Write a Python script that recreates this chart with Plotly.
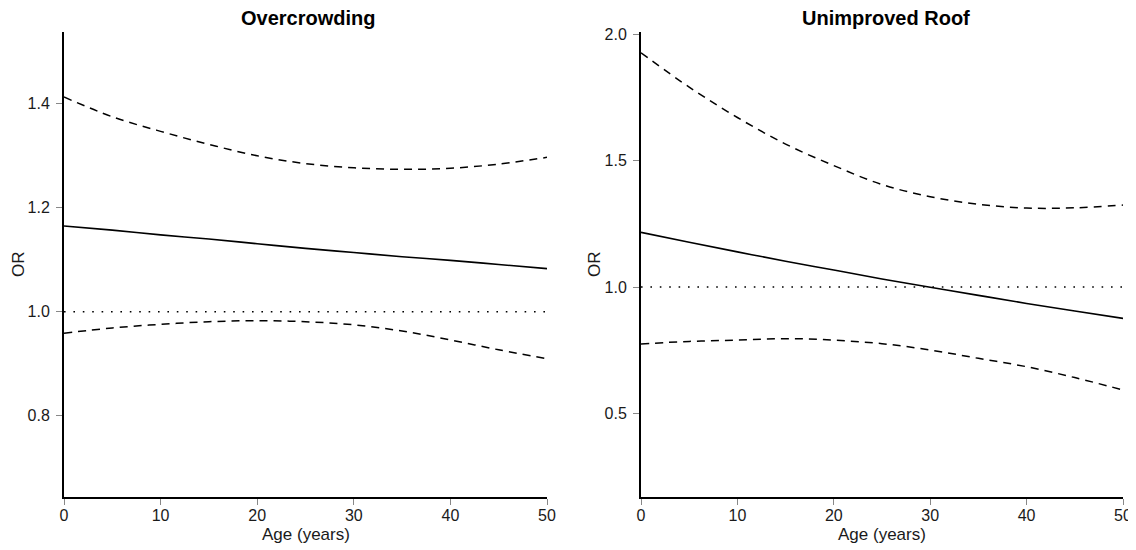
import plotly.graph_objects as go

# ---- data ----
age = [0, 5, 10, 15, 20, 25, 30, 35, 40, 45, 50]

over_or = [1.165, 1.157, 1.148, 1.140, 1.131, 1.122, 1.114, 1.106, 1.099, 1.091, 1.083]
over_hi = [1.413, 1.375, 1.347, 1.322, 1.300, 1.285, 1.277, 1.274, 1.276, 1.284, 1.297]
over_lo = [0.959, 0.969, 0.976, 0.981, 0.983, 0.981, 0.975, 0.963, 0.946, 0.927, 0.910]

roof_or = [1.216, 1.177, 1.139, 1.102, 1.067, 1.032, 0.999, 0.967, 0.935, 0.905, 0.876]
roof_hi = [1.926, 1.790, 1.670, 1.565, 1.480, 1.405, 1.357, 1.327, 1.312, 1.313, 1.324]
roof_lo = [0.775, 0.785, 0.790, 0.796, 0.790, 0.776, 0.751, 0.718, 0.685, 0.642, 0.593]

ref_x = [0, 50]
ref_y = [1.0, 1.0]

titles = ["Overcrowding", "Unimproved Roof"]
x_ticks = [0, 10, 20, 30, 40, 50]
y_ticks_left = [0.8, 1.0, 1.2, 1.4]
y_ticks_right = [0.5, 1.0, 1.5, 2.0]

# page body has an 8px margin, so the figure is drawn 8px smaller and coordinates shifted
OFF = 8
W, H = 1136 - OFF, 550 - OFF
FONT = "Liberation Sans, Arial, Helvetica, sans-serif"

def px(x):
    return (x - OFF) / W

def py(y):
    return 1 - (y - OFF) / H

fig = go.Figure()

def add_panel(xa, ya, est, hi, lo):
    fig.add_trace(go.Scatter(x=ref_x, y=ref_y, mode="lines", xaxis=xa, yaxis=ya,
                             line=dict(color="black", width=1.5, dash="1.6px,7.8px"),
                             showlegend=False, hoverinfo="skip"))
    fig.add_trace(go.Scatter(x=age, y=hi, mode="lines", xaxis=xa, yaxis=ya, line_shape="spline",
                             line=dict(color="black", width=1.5, dash="8px,6px"), showlegend=False))
    fig.add_trace(go.Scatter(x=age, y=lo, mode="lines", xaxis=xa, yaxis=ya, line_shape="spline",
                             line=dict(color="black", width=1.5, dash="8px,6px"), showlegend=False))
    fig.add_trace(go.Scatter(x=age, y=est, mode="lines", xaxis=xa, yaxis=ya, line_shape="spline",
                             line=dict(color="black", width=1.6), showlegend=False))

add_panel("x", "y", over_or, over_hi, over_lo)
add_panel("x2", "y2", roof_or, roof_hi, roof_lo)

ydom = [py(497), py(32)]
axis_common = dict(showline=True, linecolor="black", linewidth=2, showgrid=False, zeroline=False,
                   ticks="outside", ticklen=6, tickwidth=1.2, tickcolor="#888888",
                   tickfont=dict(family=FONT, size=16, color="#1a1a1a"), automargin=False)

fig.update_layout(
    width=W, height=H,
    margin=dict(l=0, r=0, t=0, b=0),
    paper_bgcolor="white", plot_bgcolor="white",
    xaxis=dict(domain=[px(64), px(547)], range=[0, 50], tickvals=x_ticks, anchor="y",
               ticklabelstandoff=-3, **axis_common),
    yaxis=dict(domain=ydom, range=[0.644, 1.538], tickvals=y_ticks_left,
               tickformat=".1f", anchor="x", ticklabelstandoff=3, **axis_common),
    xaxis2=dict(domain=[px(641), px(1123)], range=[0, 50], tickvals=x_ticks, anchor="y2",
                ticklabelstandoff=-3, **axis_common),
    yaxis2=dict(domain=ydom, range=[0.170, 2.008], tickvals=y_ticks_right,
                tickformat=".1f", anchor="x2", ticklabelstandoff=3, **axis_common),
)

annotations = [
    dict(text="<b>" + titles[0] + "</b>", x=px(308), y=py(18)),
    dict(text="<b>" + titles[1] + "</b>", x=px(886), y=py(18)),
]
for a in annotations:
    a.update(xref="paper", yref="paper", showarrow=False, xanchor="center", yanchor="middle",
             font=dict(family=FONT, size=20, color="black"))

labels = [
    dict(text="Age (years)", x=px(306), y=py(534), textangle=0),
    dict(text="Age (years)", x=px(882), y=py(534), textangle=0),
    dict(text="OR", x=px(18), y=py(264), textangle=-90),
    dict(text="OR", x=px(594), y=py(264), textangle=-90),
]
for a in labels:
    a.update(xref="paper", yref="paper", showarrow=False, xanchor="center", yanchor="middle",
             font=dict(family=FONT, size=17, color="#1a1a1a"))

fig.update_layout(annotations=annotations + labels)

fig.write_html("out.html")
